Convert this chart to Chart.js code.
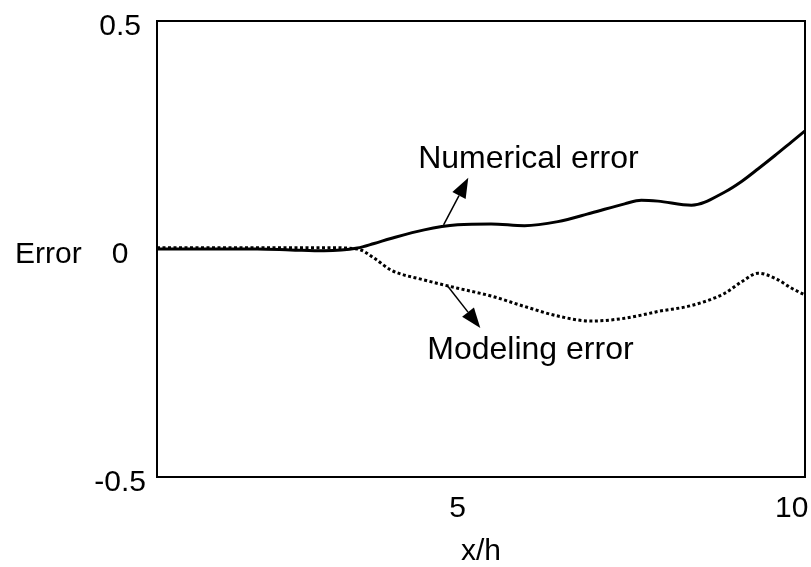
<!DOCTYPE html>
<html>
<head>
<meta charset="utf-8">
<title>Error vs x/h</title>
<script src="https://cdn.jsdelivr.net/npm/chart.js@4/dist/chart.umd.min.js"></script>
<style>
  html, body { margin: 0; background: #fff; }
  .wrap { width: 811px; height: 567px; }
</style>
</head>
<body>
<div class="wrap"><canvas id="chart-err"></canvas></div>
<script>
// posiciones x/h y errores de cada curva
const xh = [0.5, 1, 1.5, 2, 2.5, 3, 3.5, 3.75, 4, 4.5, 5, 5.5, 6, 6.5, 7, 7.5, 7.75, 8, 8.5, 9, 9.25, 9.5, 9.75, 10, 10.2];
const errNumerico = [0, 0, 0, 0, -0.002, -0.004, 0.002, 0.012, 0.023, 0.042, 0.053, 0.055, 0.051, 0.06, 0.079, 0.099, 0.107, 0.105, 0.096, 0.125, 0.148, 0.176, 0.205, 0.235, 0.259];
const errModelo = [0.003, 0.003, 0.003, 0.003, 0.003, 0.003, 0, -0.02, -0.046, -0.068, -0.086, -0.103, -0.126, -0.147, -0.158, -0.152, -0.145, -0.137, -0.124, -0.097, -0.072, -0.053, -0.064, -0.086, -0.101];
const xTicks = [5, 10];
const yTicks = [-0.5, 0, 0.5];

const FONT = { family: "'Liberation Sans', Arial, sans-serif", size: 30 };
const FONT_CSS = "30px 'Liberation Sans', Arial, sans-serif";
const FONT_NOTA = "32px 'Liberation Sans', Arial, sans-serif";
const Y_LABEL_OFF = 6; // rótulos del eje y un poco por debajo de su marca

// rótulos con flecha (en coordenadas de datos)
const notas = [
  { texto: 'Numerical error', tx: 6.06, ty: 0.197, desde: [4.79, 0.053], hasta: [5.16, 0.156] },
  { texto: 'Modeling error',  tx: 6.09, ty: -0.221, desde: [4.85, -0.081], hasta: [5.34, -0.173] },
];

function flecha(ctx, x1, y1, x2, y2) {
  const ang = Math.atan2(y2 - y1, x2 - x1), L = 20, W = 7.5;
  const bx = x2 - L * Math.cos(ang), by = y2 - L * Math.sin(ang);
  ctx.lineWidth = 1.5;
  ctx.beginPath(); ctx.moveTo(x1, y1); ctx.lineTo(bx, by); ctx.stroke();
  ctx.beginPath();
  ctx.moveTo(x2, y2);
  ctx.lineTo(bx + W * Math.sin(ang), by - W * Math.cos(ang));
  ctx.lineTo(bx - W * Math.sin(ang), by + W * Math.cos(ang));
  ctx.closePath(); ctx.fill();
}

// marco del gráfico, etiqueta "Error" y anotaciones
const extras = {
  id: 'extras',
  afterDraw(chart) {
    const { ctx, chartArea: a, scales: { x, y } } = chart;
    ctx.save();
    ctx.strokeStyle = '#000'; ctx.fillStyle = '#000';
    ctx.lineWidth = 2;
    ctx.strokeRect(a.left, a.top, a.width, a.height);
    ctx.font = FONT_CSS;
    ctx.textBaseline = 'middle';
    ctx.textAlign = 'left';
    ctx.fillText('Error', 15, y.getPixelForValue(0) + Y_LABEL_OFF);
    ctx.font = FONT_NOTA;
    ctx.textAlign = 'center';
    for (const n of notas) {
      ctx.fillText(n.texto, x.getPixelForValue(n.tx), y.getPixelForValue(n.ty));
      flecha(ctx, x.getPixelForValue(n.desde[0]), y.getPixelForValue(n.desde[1]),
                  x.getPixelForValue(n.hasta[0]), y.getPixelForValue(n.hasta[1]));
    }
    ctx.restore();
  }
};

new Chart(document.getElementById('chart-err'), {
  type: 'line',
  data: {
    datasets: [
      { label: 'Numerical error', data: xh.map((v, i) => ({ x: v, y: errNumerico[i] })),
        borderColor: '#000', borderWidth: 3, pointRadius: 0, cubicInterpolationMode: 'monotone' },
      { label: 'Modeling error', data: xh.map((v, i) => ({ x: v, y: errModelo[i] })),
        borderColor: '#000', borderWidth: 3, borderDash: [3, 2.5], pointRadius: 0, cubicInterpolationMode: 'monotone' },
    ]
  },
  options: {
    responsive: true, maintainAspectRatio: false, animation: false,
    layout: { autoPadding: false, padding: { left: 94, top: 21, right: 6, bottom: 0 } },
    plugins: { legend: { display: false }, tooltip: { enabled: false } },
    scales: {
      x: {
        type: 'linear', min: 0.5, max: 10.2,
        afterBuildTicks: s => { s.ticks = xTicks.map(v => ({ value: v })); },
        // sin margen extra por el rótulo "10"
        afterFit: s => { s.height = 90; s.paddingLeft = 0; s.paddingRight = 0; },
        grid: { display: false, drawTicks: false }, border: { display: false },
        ticks: { font: FONT, color: '#000', padding: 14, maxRotation: 0 },
        title: { display: true, text: 'x/h', font: { ...FONT, lineHeight: 1 }, color: '#000', padding: { top: 0, bottom: 0 } }
      },
      y: {
        min: -0.5, max: 0.5,
        afterBuildTicks: s => { s.ticks = yTicks.map(v => ({ value: v })); },
        afterFit: s => { s.width = 63; s.paddingTop = 0; s.paddingBottom = 0; },
        grid: { display: false, drawTicks: false }, border: { display: false },
        ticks: { font: FONT, color: '#000', padding: 11, crossAlign: 'center', labelOffset: Y_LABEL_OFF }
      }
    }
  },
  plugins: [extras]
});
</script>
</body>
</html>
